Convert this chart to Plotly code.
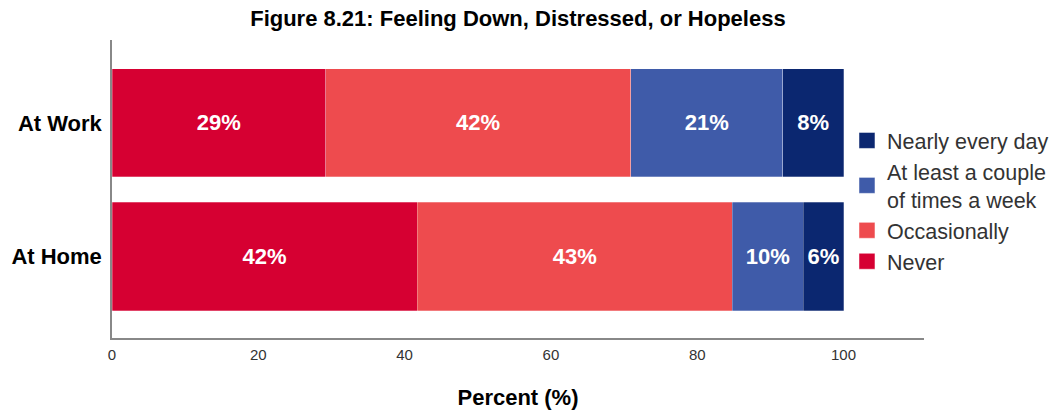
import plotly.graph_objects as go

categories = ["At Home", "At Work"]
series_names = ["Never", "Occasionally", "At least a couple<br>of times a week", "Nearly every day"]
never = [41.7, 29.2]
occasionally = [43.1, 41.7]
couple = [9.7, 20.8]
nearly = [5.5, 8.3]
colors = ["#D60032", "#EE4B4E", "#3F5BA9", "#0B2770"]
x_ticks = [0, 20, 40, 60, 80, 100]

FONT = "Liberation Sans, Arial, sans-serif"

fig = go.Figure()
for name, vals, col in zip(series_names, [never, occasionally, couple, nearly], colors):
    fig.add_trace(go.Bar(
        y=categories, x=vals, name=name, orientation="h",
        marker=dict(color=col, line=dict(width=0.6, color="rgba(255,255,255,0.45)")),
        texttemplate="%{x:.0f}%", textposition="inside", insidetextanchor="middle",
        textangle=0, constraintext="none",
        textfont=dict(family=FONT, size=22, color="white", weight="bold"),
        width=0.81, showlegend=False,
        hoverinfo="skip",
    ))
# legend entries with larger square swatches
for name, col in zip(series_names, colors):
    fig.add_trace(go.Scatter(
        x=[None], y=[None], mode="markers", name=name,
        marker=dict(symbol="square", size=16, color=col,
                    line=dict(width=1, color="rgba(255,255,255,0.5)")),
        hoverinfo="skip",
    ))

fig.update_layout(
    barmode="stack",
    width=1057, height=413,
    margin=dict(l=112, r=133, t=40, b=75, autoexpand=False),
    paper_bgcolor="white", plot_bgcolor="white",
    title=dict(text="<b>Figure 8.21: Feeling Down, Distressed, or Hopeless</b>",
               x=0.49, xanchor="center", y=0.955, yanchor="middle",
               font=dict(family=FONT, size=22, color="black")),
    legend=dict(xref="container", yref="container", x=0.8013, xanchor="left",
                y=0.7095, yanchor="top",
                traceorder="reversed", bgcolor="rgba(0,0,0,0)",
                font=dict(family=FONT, size=21.5, color="#333333"),
                tracegroupgap=0),
    showlegend=True,
)
fig.update_xaxes(range=[0, 111], tickvals=x_ticks, showgrid=False, zeroline=False,
                 showline=True, linecolor="#888888", linewidth=1.5,
                 ticks="", ticklabelstandoff=2,
                 tickfont=dict(family=FONT, size=15, color="#333333"),
                 title=dict(text="<b>Percent (%)</b>", standoff=28,
                            font=dict(family=FONT, size=22, color="black")))
fig.update_yaxes(range=[-0.61, 1.62], showgrid=False, zeroline=False,
                 showline=True, linecolor="#888888", linewidth=1.5, ticks="",
                 ticklabelstandoff=4,
                 tickfont=dict(family=FONT, size=22, color="black", weight="bold"))

fig.write_html("out.html", config={"displayModeBar": False},
               post_script="document.body.style.margin='0px';document.body.style.overflow='hidden';")
